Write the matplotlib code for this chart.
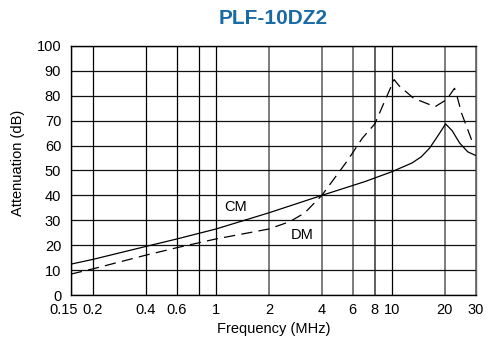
import matplotlib
matplotlib.use('Agg')
import matplotlib.pyplot as plt
from matplotlib.ticker import FixedLocator, NullLocator
from matplotlib.transforms import ScaledTranslation

plt.rcParams['font.family'] = ['Liberation Sans', 'DejaVu Sans']

# data
cm_f = [0.15, 0.2, 0.4, 0.6, 1, 2, 4, 7, 10, 13, 14.7, 16.4, 18.5, 20.2, 22, 24.3, 27, 30]
cm_db = [12.4, 14.3, 19.5, 22.5, 26.5, 33, 40, 45.5, 49.5, 53, 55.5, 59, 64.5, 68.7, 66, 61, 57.5, 56]

dm_f = [0.15, 0.2, 0.4, 0.6, 1, 2, 2.64, 3.2, 4, 5.6, 6.8, 8, 10.3, 11, 13.3, 17.6, 20.5, 22.7, 23.5, 24.9, 28.5]
dm_db = [8.4, 10.5, 16, 19, 22.5, 26.5, 29.5, 33, 40, 54, 63, 68.7, 86.5, 84, 79, 75.6, 78.5, 83, 79.7, 73, 62]

grid_f = [0.15, 0.2, 0.4, 0.6, 0.8, 1, 2, 4, 6, 8, 10, 20, 30]
grid_c = ['k', 'k', 'k', 'k', 'k', 'k', '#666', '#666', '#666', '#444', 'k', '#666', '#666']
tick_f = [0.15, 0.2, 0.4, 0.6, 1, 2, 4, 6, 8, 10, 20, 30]
tick_lbl = ['0.15', '0.2', '0.4', '0.6', '1', '2', '4', '6', '8', '10', '20', '30']
y_ticks = list(range(0, 101, 10))

fig = plt.figure(figsize=(4.89, 3.37), dpi=100)
ax = fig.add_axes([0.145, 0.1246, 0.828, 0.739])

ax.plot(cm_f, cm_db, color='black', lw=0.9)
ax.plot(dm_f, dm_db, color='black', lw=0.9, dashes=(9, 5))

ax.set_xscale('log')
ax.set_xlim(0.15, 30)
ax.set_ylim(0, 100)
for f, c in zip(grid_f, grid_c):
    ax.axvline(f, color=c, lw=1.2 if c != 'k' else 0.9, zorder=0)
for v in y_ticks:
    ax.axhline(v, color='#111111', lw=0.9, zorder=0)

ax.xaxis.set_major_locator(FixedLocator(tick_f))
ax.xaxis.set_minor_locator(NullLocator())
ax.set_xticklabels(tick_lbl)
ax.set_yticks(y_ticks)
ax.tick_params(length=0, labelsize=10.5)
ax.tick_params(axis='x', pad=6)
ax.tick_params(axis='y', pad=7)
# first label sits a little left of its grid line in the original
first = ax.get_xticklabels()[0]
first.set_transform(first.get_transform() + ScaledTranslation(-0.07, 0, fig.dpi_scale_trans))
for s in ax.spines.values():
    s.set_linewidth(1.0)
ax.spines['right'].set_color('#666')

ax.text(1.3, 35.3, 'CM', fontsize=10.5, ha='center', va='center')
ax.text(3.08, 24, 'DM', fontsize=10.5, ha='center', va='center')

ax.set_xlabel('Frequency (MHz)', fontsize=10.5, labelpad=3)
ax.set_ylabel('Attenuation (dB)', fontsize=10.5)
ax.yaxis.set_label_coords(-0.113, 0.53)
ax.set_title('PLF-10DZ2', fontsize=15, fontweight='bold', color='#1a6aa6', pad=16)

fig.savefig('out.png', dpi=100)
